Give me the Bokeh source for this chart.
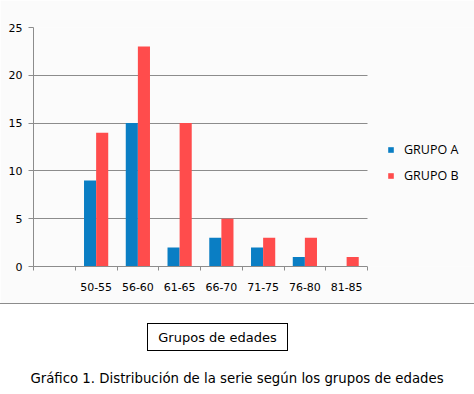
from bokeh.plotting import figure
from bokeh.models import (Range1d, FixedTicker, Legend, LegendItem, Div,
                          BoxAnnotation, ColumnDataSource)
from bokeh.transform import dodge
from bokeh.layouts import column
from bokeh.embed import file_html
from bokeh.resources import INLINE

# ---- data ----
categories = ["", "50-55", "56-60", "61-65", "66-70", "71-75", "76-80", "81-85"]
grupo_a = [0, 9, 15, 2, 3, 2, 1, 0]
grupo_b = [0, 14, 23, 15, 5, 3, 3, 1]
series_names = ["GRUPO A", "GRUPO B"]
y_ticks = [0, 5, 10, 15, 20, 25]
x_title = "Grupos de edades"
caption = "Gráfico 1. Distribución de la serie según los grupos de edades"

# ---- styles ----
colors = ["#0A7EC4", "#FF4C4C"]
grid_col = "#8C8C8C"
chart_bg = "#FBFBFB"
bar_w = 0.29

n = len(categories)
# plotting area is 334 px for the categories; the frame runs on to the right
# edge (441 px) so that the legend can sit beside the bars
x_end = n * 441 / 334
centers = [i + 0.5 for i in range(n)]
src = ColumnDataSource(dict(x=centers, a=grupo_a, b=grupo_b, cat=categories))

p = figure(width=474, height=303, output_backend="svg", toolbar_location=None,
           x_range=Range1d(0, x_end), y_range=Range1d(0, 25),
           min_border_left=33, min_border_right=0, min_border_top=27,
           min_border_bottom=37)
p.border_fill_color = chart_bg
p.background_fill_color = chart_bg
p.outline_line_color = None

ra = p.vbar(x=dodge("x", -bar_w / 2, range=p.x_range), top="a", width=bar_w,
            source=src, fill_color=colors[0], line_color=None)
rb = p.vbar(x=dodge("x", bar_w / 2, range=p.x_range), top="b", width=bar_w,
            source=src, fill_color=colors[1], line_color=None)

# x axis: labels at centers, tick marks at category boundaries
xa = p.xaxis[0]
xa.bounds = (0, n)
xa.ticker = FixedTicker(ticks=centers, minor_ticks=list(range(n + 1)))
xa.major_label_overrides = {c: lab for c, lab in zip(centers, categories)}
xa.major_tick_out = 0
xa.major_tick_in = 0
xa.minor_tick_out = 4
xa.minor_tick_in = 0
xa.minor_tick_line_color = grid_col
xa.axis_line_color = grid_col
xa.major_label_standoff = 12
xa.major_label_text_font = "DejaVu Sans"
xa.major_label_text_font_size = "11px"
xa.major_label_text_color = "black"

ya = p.yaxis[0]
ya.ticker = FixedTicker(ticks=y_ticks)
ya.major_tick_out = 5
ya.major_tick_in = 0
ya.minor_tick_line_color = None
ya.major_tick_line_color = grid_col
ya.axis_line_color = grid_col
ya.major_label_standoff = 6
ya.major_label_text_font = "DejaVu Sans"
ya.major_label_text_font_size = "11px"
ya.major_label_text_color = "black"

p.xgrid.grid_line_color = None
p.ygrid.grid_line_color = grid_col
p.ygrid.ticker = FixedTicker(ticks=y_ticks)

# gridlines stop at the last category: cover the legend area
p.add_layout(BoxAnnotation(left=n, fill_color=chart_bg, fill_alpha=1,
                           line_color=None))

legend = Legend(items=[LegendItem(label=series_names[0], renderers=[ra]),
                       LegendItem(label=series_names[1], renderers=[rb])],
                location=(354, 82), orientation="vertical",
                glyph_width=7, glyph_height=7, label_height=14, spacing=9,
                label_standoff=10, padding=0, margin=0,
                label_text_font="Open Sans", label_text_font_size="12.5px",
                label_text_color="black",
                border_line_color=None, background_fill_alpha=0)
p.add_layout(legend, "center")

# ---- lower area: separator line, axis-title box and caption ----
html = f"""
<div style="position:relative; width:474px; height:91px; margin:0; padding:0;
            box-sizing:border-box; border-top:1px solid {grid_col};
            background:white; font-family:'DejaVu Sans'; color:black;">
  <div style="position:absolute; left:147px; top:19px; width:141px; height:28px;
              border:1px solid black; font-size:13px; line-height:28px;
              text-align:center; white-space:nowrap;">{x_title}</div>
  <div style="position:absolute; left:0px; top:67px; width:474px;
              font-size:13.3px; line-height:16px; text-align:center;
              white-space:nowrap;">{caption}</div>
</div>
"""
lower = Div(text=html, width=474, height=91, margin=0)

layout = column(p, lower, spacing=0)
open("out.html", "w").write(file_html(layout, INLINE))
